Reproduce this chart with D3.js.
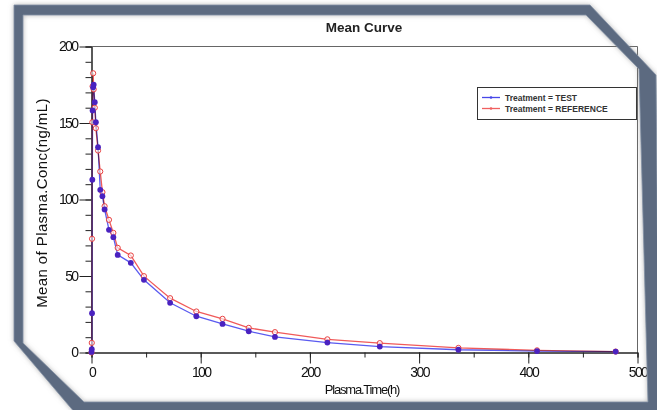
<!DOCTYPE html>
<html>
<head>
<meta charset="utf-8">
<title>Mean Curve</title>
<script src="https://cdnjs.cloudflare.com/ajax/libs/d3/7.8.5/d3.min.js"></script>
<style>
    * { margin: 0; padding: 0; }
    body { background: #fff; width: 657px; height: 410px; overflow: hidden; }
    svg { display: block; font-family: "Liberation Sans", Arial, sans-serif; }
    .axis path, .axis line { stroke: #222; }
    .axis text { font-size: 14px; letter-spacing: -1.6px; fill: #111; }
</style>
</head>
<body>
<div class="graph"></div>
<script>
    // Sampling times (h)
    const times = [0, 0.25, 0.5, 0.75, 1, 1.5, 2, 3, 4, 6, 8, 10, 12, 16, 20, 24, 36,
                   48, 72, 96, 120, 144, 168, 216, 264, 336, 408, 480];

    // Mean plasma concentration (ng/mL), Treatment = TEST
    const testConc = [0.4, 2.2, 25.7, 112.9, 158.2, 173.4, 175, 163.6, 150.5, 134.2, 106.3, 102.2, 93.5, 80.2, 75.4, 63.8, 58.6,
                      47.5, 32.5, 23.7, 18.7, 13.9, 10.2, 6.5, 3.9, 1.8, 0.9, 0.6];

    // Mean plasma concentration (ng/mL), Treatment = REFERENCE
    const refConc = [0, 6.3, 74.3, 150.5, 174, 182.5, 172, 160, 146.6, 132, 118.3, 104.8, 95.6, 86.7, 78.2, 68.4, 63.4,
                     49.9, 35.5, 26.8, 22, 16.1, 13.3, 8.6, 6.1, 3, 1.4, 0.6];

    const xTicks = [0, 100, 200, 300, 400, 500];
    const yTicks = [0, 50, 100, 150, 200];
    const seriesNames = ['Treatment = TEST', 'Treatment = REFERENCE'];

    const width = 657, height = 410;
    const plotLeft = 91.5, plotRight = 637.5, plotTop = 46.5, plotBottom = 352.5;

    var svg = d3.select('.graph').append('svg')
        .attr('width', width)
        .attr('height', height);

    // Frame with cut corners
    var defs = svg.append('defs');
    var shadow = defs.append('filter').attr('id', 'shadow')
        .attr('x', '-5%').attr('y', '-5%').attr('width', '110%').attr('height', '110%');
    shadow.append('feDropShadow')
        .attr('dx', 0).attr('dy', 0).attr('stdDeviation', 2.5)
        .attr('flood-color', '#8a8a8a').attr('flood-opacity', 0.6);

    var outer = [[14, 5], [590, 5], [656, 75], [659, 414], [76, 414], [14, 341]];
    var inner = [[23, 15], [586, 15], [639, 69], [648, 402], [84, 402], [23, 343]];
    var poly = function(p) { return 'M' + p.map(function(d) { return d.join(','); }).join('L') + 'Z'; };

    // Scales
    var x = d3.scaleLinear().domain([0, 500]).range([plotLeft, plotRight]);
    var y = d3.scaleLinear().domain([0, 200]).range([plotBottom, plotTop]);

    // Plot box (top and right edges)
    svg.append('path')
        .attr('d', 'M' + plotLeft + ',' + plotTop + 'H' + plotRight + 'V' + plotBottom)
        .attr('fill', 'none')
        .attr('stroke', '#666')
        .attr('stroke-width', 1);

    // Minor ticks
    svg.append('g')
        .attr('class', 'axis')
        .attr('transform', 'translate(' + plotLeft + ',0)')
        .call(d3.axisLeft(y).tickValues(d3.range(0, 201, 10)).tickSize(6).tickFormat(''));
    svg.append('g')
        .attr('class', 'axis')
        .attr('transform', 'translate(0,' + plotBottom + ')')
        .call(d3.axisBottom(x).tickValues(d3.range(0, 501, 50)).tickSize(5).tickFormat(''));

    // Major ticks + labels
    svg.append('g')
        .attr('class', 'axis')
        .attr('transform', 'translate(' + plotLeft + ',0)')
        .call(d3.axisLeft(y).tickValues(yTicks).tickSize(12).tickSizeOuter(0).tickPadding(2));
    svg.append('g')
        .attr('class', 'axis')
        .attr('transform', 'translate(0,' + plotBottom + ')')
        .call(d3.axisBottom(x).tickValues(xTicks).tickSize(11).tickSizeOuter(0).tickPadding(4));

    // Series
    var line = d3.line()
        .x(function(d) { return x(d[0]); })
        .y(function(d) { return y(d[1]); });

    var testData = times.map(function(t, i) { return [t, testConc[i]]; });
    var refData = times.map(function(t, i) { return [t, refConc[i]]; });

    svg.append('path')
        .datum(testData)
        .attr('d', line)
        .attr('fill', 'none')
        .attr('stroke', '#5a5af0')
        .attr('stroke-width', 1.3);

    svg.append('path')
        .datum(refData)
        .attr('d', line)
        .attr('fill', 'none')
        .attr('stroke', '#f05a5a')
        .attr('stroke-width', 1.3)
        .style('mix-blend-mode', 'multiply');

    svg.append('g').selectAll('circle')
        .data(refData)
        .enter().append('circle')
        .attr('cx', function(d) { return x(d[0]); })
        .attr('cy', function(d) { return y(d[1]); })
        .attr('r', 2.6)
        .attr('fill', '#fff')
        .attr('fill-opacity', 0.6)
        .attr('stroke', '#e84040')
        .attr('stroke-width', 1);

    svg.append('g').selectAll('circle')
        .data(testData)
        .enter().append('circle')
        .attr('cx', function(d) { return x(d[0]); })
        .attr('cy', function(d) { return y(d[1]); })
        .attr('r', 2.9)
        .attr('fill', '#4a22c0');

    // Titles
    svg.append('text')
        .attr('x', 364).attr('y', 32)
        .attr('text-anchor', 'middle')
        .style('font-size', '13.5px')
        .style('font-weight', 'bold')
        .style('fill', '#222')
        .text('Mean Curve');

    svg.append('text')
        .attr('x', 362).attr('y', 394)
        .attr('text-anchor', 'middle')
        .style('font-size', '13px')
        .style('letter-spacing', '-1.2px')
        .style('fill', '#111')
        .text('Plasma.Time(h)');

    svg.append('text')
        .attr('transform', 'translate(47,203) rotate(-90)')
        .attr('text-anchor', 'middle')
        .style('font-size', '15px')
        .style('letter-spacing', '0.4px')
        .style('fill', '#111')
        .text('Mean of Plasma.Conc(ng/mL)');

    // Legend
    var legend = svg.append('g').attr('transform', 'translate(477,87)');
    legend.append('rect')
        .attr('x', 0.5).attr('y', 0.5)
        .attr('width', 159).attr('height', 32)
        .attr('fill', '#fff')
        .attr('stroke', '#333');
    var legendColors = ['#4848e8', '#f06060'];
    seriesNames.forEach(function(name, i) {
        var ly = 10.5 + i * 11;
        legend.append('line')
            .attr('x1', 5).attr('x2', 23)
            .attr('y1', ly).attr('y2', ly)
            .attr('stroke', legendColors[i])
            .attr('stroke-width', 1.3);
        legend.append('circle')
            .attr('cx', 14).attr('cy', ly).attr('r', 1.3)
            .attr('fill', legendColors[i]);
        legend.append('text')
            .attr('x', 28).attr('y', ly + 3)
            .style('font-size', '8.5px')
            .style('font-weight', 'bold')
            .style('fill', '#333')
            .text(name);
    });

    // Frame drawn last so it covers the plot box corner
    svg.append('path')
        .attr('d', poly(outer) + poly(inner))
        .attr('fill-rule', 'evenodd')
        .attr('fill', '#5b6a80')
        .attr('stroke', '#8391a4')
        .attr('stroke-width', 0.8)
        .attr('filter', 'url(#shadow)');
</script>
</body>
</html>
